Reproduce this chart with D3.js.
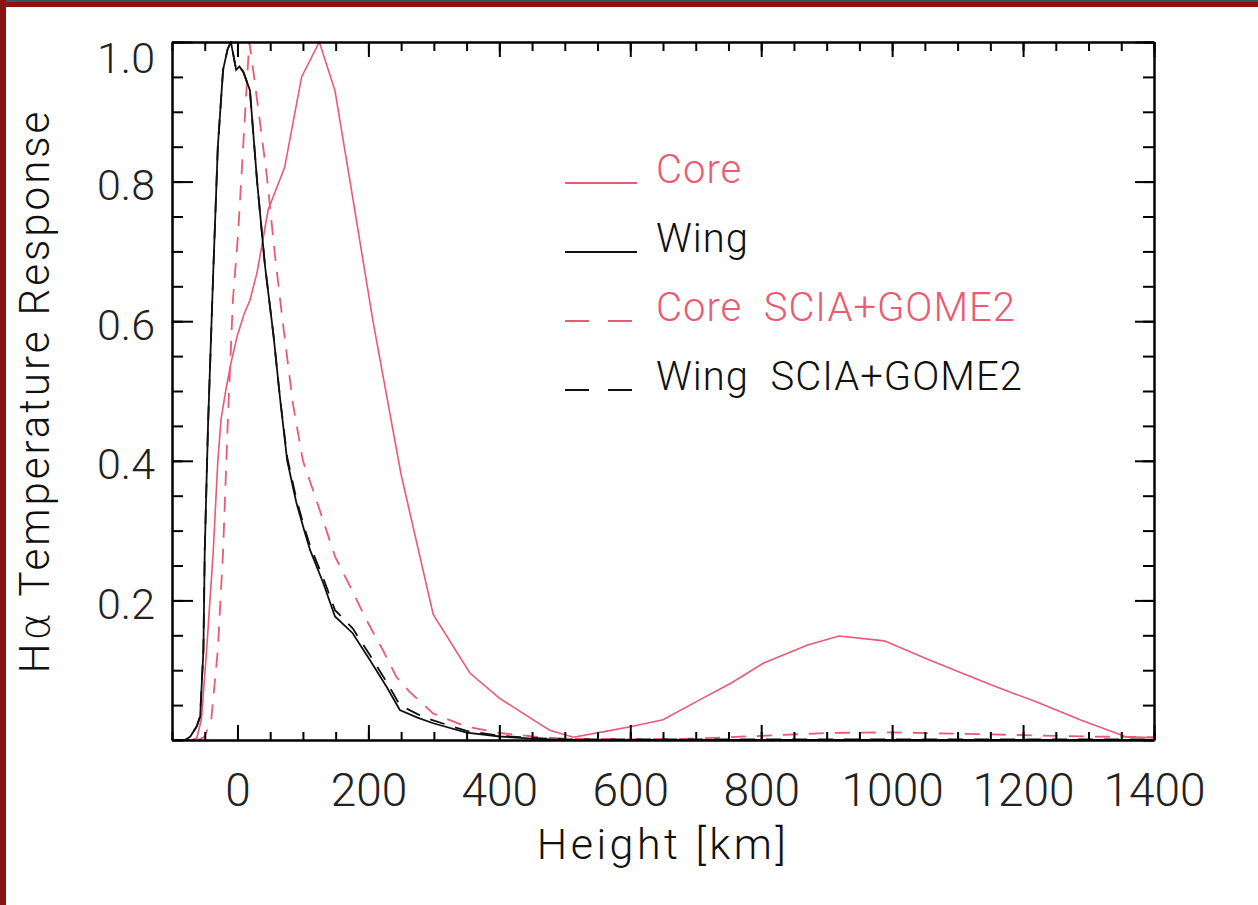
<!DOCTYPE html>
<html>
<head>
<meta charset="utf-8">
<script src="https://cdn.jsdelivr.net/npm/d3@7"></script>
<style>
body { margin: 0; background: #fff; }
svg { display: block; }
.tick text { font-family: Roboto, "Liberation Sans", sans-serif; font-weight: 300; fill: #222; }
</style>
</head>
<body>
<div id="chart"></div>
<script>
// Data (height in km, normalised response)
var coreX = [-100, -70, -62, -55, -47, -42, -37, -30, -25, -18, -10, 0, 10, 19, 30, 47, 72, 98, 125, 149, 172, 207, 250, 299, 355, 400, 450, 477, 513, 560, 600, 650, 701, 755, 803, 871, 919, 988, 1056, 1151, 1219, 1287, 1356, 1400];
var coreY = [0, 0, 0.003, 0.03, 0.13, 0.2, 0.27, 0.40, 0.46, 0.50, 0.54, 0.58, 0.61, 0.63, 0.67, 0.76, 0.82, 0.95, 1.0, 0.93, 0.80, 0.60, 0.38, 0.18, 0.096, 0.06, 0.03, 0.014, 0.004, 0.012, 0.019, 0.029, 0.055, 0.082, 0.11, 0.136, 0.149, 0.142, 0.115, 0.079, 0.055, 0.029, 0.005, 0.003];

var wingX = [-100, -80, -72, -62, -57, -52, -50, -45, -37, -30, -22, -15, -10, -2, 3, 9, 19, 30, 42, 55, 65, 76, 90, 102, 111, 131, 149, 176, 202, 228, 248, 275, 299, 350, 401, 450, 500, 1400];
var wingY = [0, 0, 0.005, 0.02, 0.033, 0.129, 0.27, 0.45, 0.67, 0.85, 0.96, 0.99, 1.0, 0.96, 0.965, 0.957, 0.931, 0.80, 0.68, 0.58, 0.49, 0.40, 0.34, 0.30, 0.272, 0.225, 0.177, 0.153, 0.115, 0.076, 0.043, 0.032, 0.024, 0.0105, 0.005, 0.002, 0, 0];

var wingSciaX = [-100, -80, -72, -62, -57, -52, -50, -45, -37, -30, -22, -15, -10, -2, 3, 9, 19, 30, 42, 55, 65, 76, 90, 102, 111, 131, 149, 176, 202, 228, 248, 275, 299, 350, 401, 450, 500, 1400];
var wingSciaY = [0, 0, 0.005, 0.02, 0.035, 0.13, 0.27, 0.45, 0.67, 0.85, 0.96, 0.99, 1.0, 0.96, 0.965, 0.957, 0.931, 0.80, 0.68, 0.58, 0.49, 0.405, 0.345, 0.305, 0.278, 0.232, 0.186, 0.16, 0.122, 0.083, 0.05, 0.037, 0.028, 0.013, 0.006, 0.003, 0.001, 0.001];

var coreSciaX = [-100, -60, -50, -40, -30, -22, -15, -7, 1, 9, 18, 24, 34, 45, 57, 69, 85, 100, 123, 149, 172, 197, 222, 243, 263, 299, 350, 401, 452, 500, 600, 700, 800, 900, 1000, 1100, 1200, 1300, 1400];
var coreSciaY = [0, 0, 0.005, 0.03, 0.129, 0.27, 0.45, 0.63, 0.726, 0.855, 1.0, 0.96, 0.888, 0.807, 0.697, 0.60, 0.48, 0.40, 0.337, 0.263, 0.22, 0.172, 0.129, 0.09, 0.069, 0.038, 0.019, 0.01, 0.005, 0.002, 0.001, 0.002, 0.006, 0.01, 0.011, 0.009, 0.007, 0.005, 0.004];

var xTickLabels = [0, 200, 400, 600, 800, 1000, 1200, 1400];
var yTickLabels = [0.2, 0.4, 0.6, 0.8, 1.0];
var legendLabels = ['Core', 'Wing', 'Core  SCIA+GOME2', 'Wing  SCIA+GOME2'];

var red = '#ea5a72';

var svg = d3.select('#chart').append('svg')
    .attr('width', 1258)
    .attr('height', 905);

// frame round the picture
svg.append('rect').attr('x', 0).attr('y', 0).attr('width', 1258).attr('height', 905).attr('fill', '#fff');
svg.append('rect').attr('x', 0).attr('y', 0).attr('width', 1258).attr('height', 7).attr('fill', '#8a1414');
svg.append('rect').attr('x', 0).attr('y', 0).attr('width', 1258).attr('height', 2).attr('fill', '#2e5b5a');
svg.append('rect').attr('x', 0).attr('y', 0).attr('width', 6).attr('height', 905).attr('fill', '#8a1414');

var boxLeft = 172, boxRight = 1154, boxTop = 42, boxBottom = 740;

var x = d3.scaleLinear().domain([-100, 1400]).range([boxLeft, boxRight]);
var y = d3.scaleLinear().domain([0, 1]).range([boxBottom, boxTop]);

// clip curves to the plot box
svg.append('clipPath').attr('id', 'box')
    .append('rect').attr('x', boxLeft).attr('y', boxTop - 1).attr('width', boxRight - boxLeft).attr('height', boxBottom - boxTop + 1);

var line = d3.line().x(d => x(d[0])).y(d => y(d[1]));

var series = [
    { xs: coreSciaX, ys: coreSciaY, color: red, dash: '15,11', width: 1.8 },
    { xs: wingSciaX, ys: wingSciaY, color: '#111', dash: '15,11', width: 1.8 },
    { xs: coreX, ys: coreY, color: red, dash: null, width: 1.6 },
    { xs: wingX, ys: wingY, color: '#111', dash: null, width: 1.8 }
];

var g = svg.append('g').attr('clip-path', 'url(#box)');
series.forEach(function(s) {
    g.append('path')
        .attr('d', line(d3.zip(s.xs, s.ys)))
        .attr('fill', 'none')
        .attr('stroke', s.color)
        .attr('stroke-width', s.width)
        .attr('stroke-dasharray', s.dash);
});

// axes: major and minor ticks, all pointing inward
var xMinor = d3.range(-100, 1401, 50);
var yMinor = d3.range(0, 1.001, 0.05);

function styleAxis(sel) {
    sel.select('.domain').attr('stroke', '#000').attr('stroke-width', 2);
    sel.selectAll('.tick line').attr('stroke', '#000').attr('stroke-width', 2);
}

var xb = svg.append('g').attr('transform', `translate(0,${boxBottom})`)
    .call(d3.axisBottom(x).tickValues(xMinor).tickSize(-8).tickSizeOuter(0).tickFormat(''));
styleAxis(xb);
var xbMajor = svg.append('g').attr('transform', `translate(0,${boxBottom})`)
    .call(d3.axisBottom(x).tickValues(xTickLabels).tickSize(-15).tickSizeOuter(0).tickPadding(33).tickFormat(d3.format('d')));
styleAxis(xbMajor);
xbMajor.selectAll('.tick text').attr('font-size', 46);

var xt = svg.append('g').attr('transform', `translate(0,${boxTop})`)
    .call(d3.axisTop(x).tickValues(xMinor).tickSize(-9).tickSizeOuter(0).tickFormat(''));
styleAxis(xt);
var xtMajor = svg.append('g').attr('transform', `translate(0,${boxTop})`)
    .call(d3.axisTop(x).tickValues(xTickLabels).tickSize(-15).tickSizeOuter(0).tickFormat(''));
styleAxis(xtMajor);

var yl = svg.append('g').attr('transform', `translate(${boxLeft},0)`)
    .call(d3.axisLeft(y).tickValues(yMinor).tickSize(-11).tickSizeOuter(0).tickFormat(''));
styleAxis(yl);
var ylMajor = svg.append('g').attr('transform', `translate(${boxLeft},0)`)
    .call(d3.axisLeft(y).tickValues(yTickLabels).tickSize(-21).tickSizeOuter(0).tickPadding(17).tickFormat(d3.format('.1f')));
styleAxis(ylMajor);
ylMajor.selectAll('.tick text').attr('font-size', 43).attr('dy', d => d === 1 ? '0.72em' : '0.42em');

var yr = svg.append('g').attr('transform', `translate(${boxRight},0)`)
    .call(d3.axisRight(y).tickValues(yMinor).tickSize(-11).tickSizeOuter(0).tickFormat(''));
styleAxis(yr);
var yrMajor = svg.append('g').attr('transform', `translate(${boxRight},0)`)
    .call(d3.axisRight(y).tickValues(yTickLabels).tickSize(-19).tickSizeOuter(0).tickFormat(''));
styleAxis(yrMajor);

// axis titles
svg.append('text')
    .attr('x', (boxLeft + boxRight) / 2).attr('y', 859)
    .attr('text-anchor', 'middle')
    .style('font-family', 'Roboto, "Liberation Sans", sans-serif')
    .style('font-weight', 300)
    .style('font-size', '43px')
    .style('letter-spacing', '3.5px')
    .attr('fill', '#111')
    .text('Height [km]');

var yTitle = svg.append('text')
    .attr('transform', `translate(49,${(boxTop + boxBottom) / 2}) rotate(-90)`)
    .attr('text-anchor', 'middle')
    .style('font-family', 'Roboto, "Liberation Sans", sans-serif')
    .style('font-weight', 300)
    .style('font-size', '42px')
    .style('letter-spacing', '3px')
    .attr('fill', '#111');
yTitle.append('tspan').text('H');
yTitle.append('tspan').style('font-family', '"DejaVu Sans", sans-serif').style('font-weight', 200).text('α');
yTitle.append('tspan').text(' Temperature Response');

// legend
var legendColors = [red, '#111', red, '#111'];
var legendDash = [null, null, '24,19', '24,19'];
var leg = svg.append('g');
legendLabels.forEach(function(lab, i) {
    var by = 183 + i * 69;
    leg.append('line')
        .attr('x1', 565).attr('x2', 637).attr('y1', by).attr('y2', by)
        .attr('stroke', legendColors[i]).attr('stroke-width', 2)
        .attr('stroke-dasharray', legendDash[i]);
    leg.append('text')
        .attr('x', 656).attr('y', by)
        .attr('xml:space', 'preserve')
        .style('white-space', 'pre')
        .style('font-family', 'Roboto, "Liberation Sans", sans-serif')
        .style('font-weight', 300)
        .style('font-size', '40px')
        .style('letter-spacing', '1px')
        .attr('fill', legendColors[i])
        .text(lab);
});
</script>
</body>
</html>
